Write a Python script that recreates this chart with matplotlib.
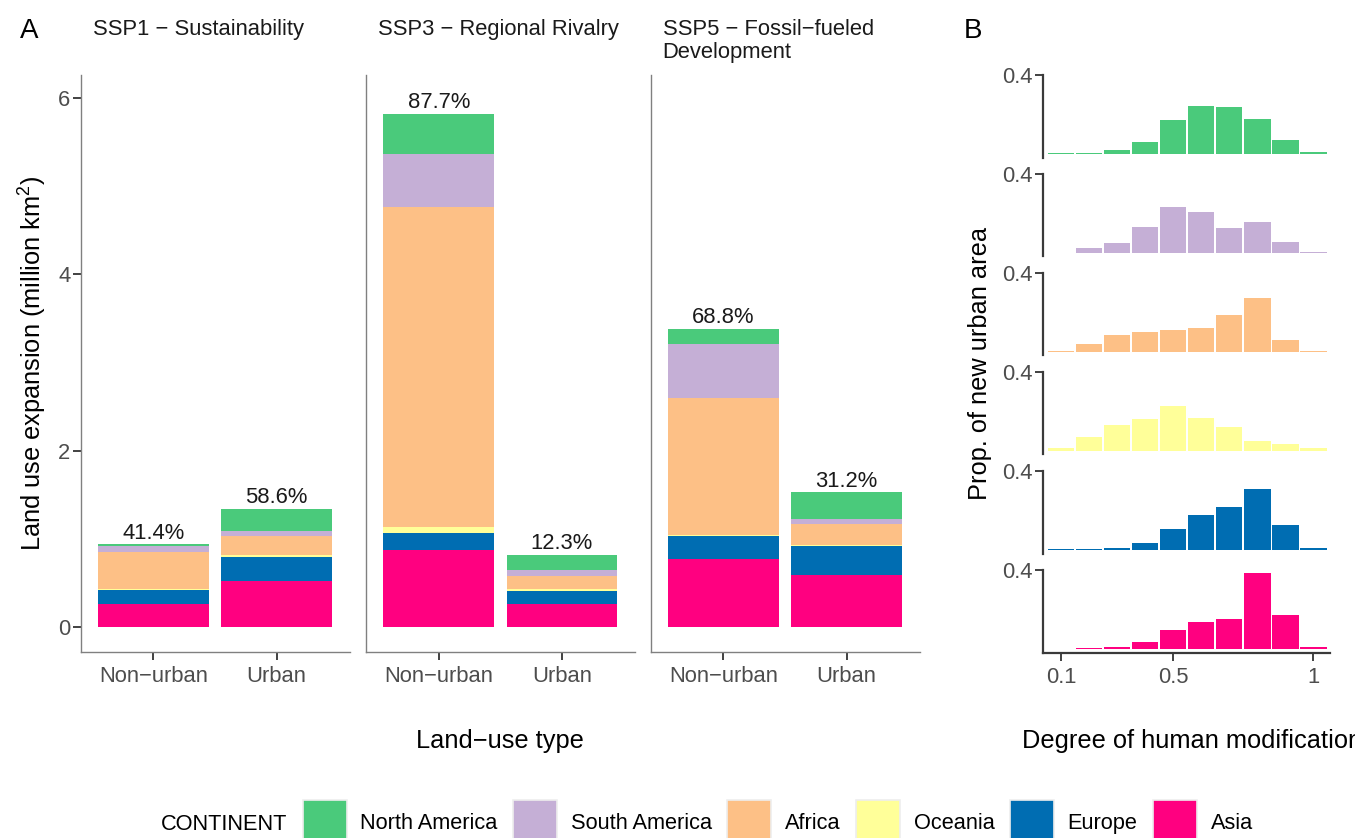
import numpy as np
import matplotlib.pyplot as plt
from matplotlib.patches import Patch

plt.rcParams['font.family'] = ['Liberation Sans', 'DejaVu Sans']
plt.rcParams['mathtext.fontset'] = 'custom'
plt.rcParams['mathtext.rm'] = 'Liberation Sans'
plt.rcParams['mathtext.it'] = 'Liberation Sans'

# Panel A data (million km2), order: SSP1 non-urban, SSP1 urban, SSP3 ..., SSP5 ...
scenarios = ['SSP1 − Sustainability', 'SSP3 − Regional Rivalry', 'SSP5 − Fossil−fueled\nDevelopment']
types = ['Non−urban', 'Urban']
continents = ['North America', 'South America', 'Africa', 'Oceania', 'Europe', 'Asia']
colors = ['#4ACA7B', '#C5AFD6', '#FDC086', '#FFFF99', '#006DB2', '#FF0080']

north_america = [0.025, 0.25, 0.45, 0.17, 0.17, 0.30]
south_america = [0.065, 0.06, 0.61, 0.07, 0.61, 0.06]
africa = [0.42, 0.21, 3.62, 0.15, 1.56, 0.235]
oceania = [0.01, 0.03, 0.07, 0.02, 0.01, 0.02]
europe = [0.16, 0.27, 0.20, 0.15, 0.26, 0.325]
asia = [0.26, 0.52, 0.87, 0.26, 0.77, 0.59]

pct_labels = [['41.4%', '58.6%'], ['87.7%', '12.3%'], ['68.8%', '31.2%']]

# Panel B data: proportion of new urban area per bin of human modification
bin_centers = [0.1, 0.2, 0.3, 0.4, 0.5, 0.6, 0.7, 0.8, 0.9, 1.0]
hist_na = [0.007, 0.007, 0.022, 0.064, 0.173, 0.244, 0.239, 0.178, 0.072, 0.012]
hist_sa = [0.003, 0.027, 0.052, 0.134, 0.235, 0.208, 0.128, 0.158, 0.057, 0.007]
hist_af = [0.005, 0.040, 0.086, 0.101, 0.111, 0.121, 0.187, 0.272, 0.061, 0.005]
hist_oc = [0.017, 0.073, 0.132, 0.164, 0.229, 0.169, 0.123, 0.052, 0.037, 0.017]
hist_eu = [0.005, 0.005, 0.010, 0.037, 0.106, 0.176, 0.217, 0.308, 0.126, 0.010]
hist_as = [0.002, 0.007, 0.012, 0.037, 0.097, 0.138, 0.153, 0.385, 0.173, 0.012]

W, H = 1355, 838
def fx(px):
    return px / W
def fy(py):
    return 1 - py / H

fig = plt.figure(figsize=(W / 100, H / 100), dpi=100)

values = [north_america, south_america, africa, oceania, europe, asia]
tick_col = '#4D4D4D'

# Panel A: three facets
for i, left in enumerate([80.7, 366, 650.7]):
    ax = fig.add_axes([fx(left), fy(651.7), 269.3 / W, 576.7 / H])
    x = np.array([1, 2])
    bottom = np.zeros(2)
    for vals, col in reversed(list(zip(values, colors))):
        v = np.array(vals[2 * i:2 * i + 2])
        ax.bar(x, v, 0.9, bottom=bottom, color=col, linewidth=0)
        bottom += v
    for j in range(2):
        ax.annotate(pct_labels[i][j], (x[j], bottom[j]), xytext=(0, 4), textcoords='offset points',
                    ha='center', va='baseline', fontsize=15.8, color='#1A1A1A')
    ax.set_xlim(0.41, 2.595)
    ax.set_ylim(-0.28, 6.261)
    ax.set_xticks(x)
    ax.set_xticklabels(types)
    for s in ['top', 'right']:
        ax.spines[s].set_visible(False)
    for s in ['left', 'bottom']:
        ax.spines[s].set_color('#808080')
        ax.spines[s].set_linewidth(1.0)
    ax.tick_params(length=5.5, width=1.3, color='#333333', labelsize=15.8, labelcolor=tick_col, pad=2)
    ax.tick_params(axis='x', pad=5)
    if i == 0:
        ax.set_yticks([0, 2, 4, 6])
    else:
        ax.set_yticks([])
    fig.text(fx(left + 12), fy(19), scenarios[i], ha='left', va='top', fontsize=15.8,
             color='#1A1A1A', linespacing=1.15)

# Panel B: one histogram per continent
hists = [hist_na, hist_sa, hist_af, hist_oc, hist_eu, hist_as]
for k, (vals, col) in enumerate(zip(hists, colors)):
    top = 75 + 99 * k
    ax = fig.add_axes([fx(1043), fy(top + 82.5), 287 / W, 82.5 / H])
    ax.bar(bin_centers, vals, 0.094, color=col, linewidth=0)
    ax.set_xlim(0.036, 1.059)
    ax.set_ylim(-0.016, 0.4)
    ax.set_yticks([0.4])
    ax.set_yticklabels(['0.4'])
    for s in ['top', 'right']:
        ax.spines[s].set_visible(False)
    ax.spines['left'].set_color('#3A3A3A')
    ax.spines['left'].set_linewidth(1.6)
    if k == 5:
        ax.set_xticks([0.1, 0.5, 1])
        ax.set_xticklabels(['0.1', '0.5', '1'])
        ax.spines['bottom'].set_color('#3A3A3A')
        ax.spines['bottom'].set_linewidth(1.6)
    else:
        ax.set_xticks([])
        ax.spines['bottom'].set_visible(False)
    ax.tick_params(length=5.5, width=1.3, color='#333333', labelsize=15.8, labelcolor=tick_col, pad=2)
    ax.tick_params(axis='x', pad=5)

# labels
fig.text(fx(20), fy(18), 'A', ha='left', va='top', fontsize=20)
fig.text(fx(964), fy(18), 'B', ha='left', va='top', fontsize=20)
fig.text(fx(33), fy(363), 'Land use expansion (million km$^{2}$)', rotation=90,
         ha='center', va='center', fontsize=18.3)
fig.text(fx(500.3), fy(748), 'Land−use type', ha='center', va='baseline', fontsize=18.3)
fig.text(fx(980), fy(363), 'Prop. of new urban area', rotation=90,
         ha='center', va='center', fontsize=18.3)
fig.text(fx(1192), fy(748), 'Degree of human modification', ha='center', va='baseline', fontsize=18.3)

# legend
handles = [Patch(facecolor=c, edgecolor='#EEEEEE', linewidth=1.2) for c in colors]
fig.text(fx(160.8), fy(830), 'CONTINENT', ha='left', va='baseline', fontsize=15.7)
fig.legend(handles, continents, loc='upper left', bbox_to_anchor=(fx(302.7), fy(800)),
           ncol=6, frameon=False, fontsize=15.7, handlelength=2.02, handleheight=2.73,
           handletextpad=0.63, columnspacing=0.70, borderpad=0, borderaxespad=0)

fig.savefig('out.png', dpi=100)
